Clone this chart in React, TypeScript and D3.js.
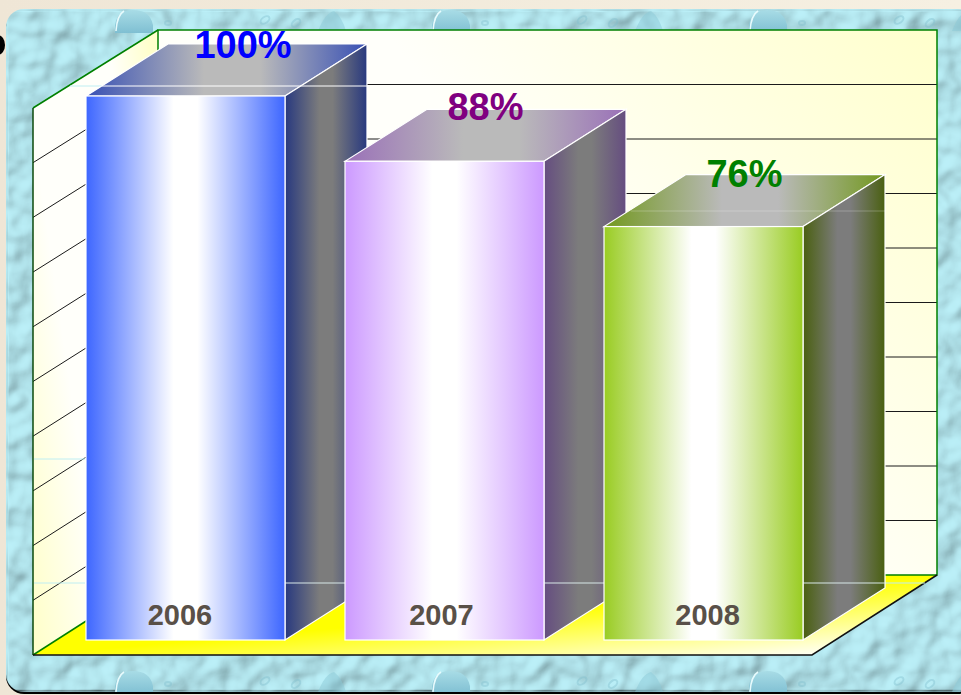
import * as d3 from "d3";

const years = ["2006", "2007", "2008"];
const percents = [100, 88, 76];
const gridTicks = d3.range(0, 101, 10);

// per bar colours, order follows years
const frontColors = ["#3d66ff", "#cc99ff", "#99cc22"];
const sideColors = ["#28397f", "#654d80", "#4a6010"];
const topColors = ["#3850b4", "#9a70b8", "#72981e"];
const labelColors = ["#0000ff", "#800080", "#008000"];

// the labels are not quite centred in the original
const valueShift = [16.5, 0, 0];
const valueLift = [38, 41, 40];
const yearShift = [-5.5, -3, 4];

// the panel picture repeats across the page, these are the repeats
const tileOffsets = [0, 317, 634];
const bandTops = [9, 670];

const WIDTH = 961;
const HEIGHT = 695;

// the plot box, front and back planes
const front = { left: 33, right: 812, top: 108, bottom: 655 };
const back = { left: 158, right: 937, top: 30, bottom: 575 };
const barDepth = { x: 82, y: -52 };

const xScale = d3
  .scaleBand<string>()
  .domain(years)
  .range([56, 833])
  .paddingInner(0.2317)
  .paddingOuter(0.1158);
const barY = d3.scaleLinear().domain([0, 100]).range([640, 96]);
const backY = d3.scaleLinear().domain([0, 100]).range([back.bottom, back.top]);
const frontY = d3.scaleLinear().domain([0, 100]).range([front.bottom, front.top]);

const poly = (pts: [number, number][]) => d3.line()(pts) + "Z";

const App = () => {
  const bw = xScale.bandwidth();
  const font = "'Liberation Sans', Arial, sans-serif";
  return (
    <svg
      width={WIDTH}
      height={HEIGHT}
      viewBox={`0 0 ${WIDTH} ${HEIGHT}`}
      style={{ position: "absolute", left: 0, top: 0, display: "block" }}
    >
      <defs>
        <linearGradient id="paper" x1="0" y1="0" x2="1" y2="0">
          <stop offset="0" stopColor="#efe6d6" />
          <stop offset="1" stopColor="#f6f0e2" />
        </linearGradient>
        <filter id="water" x="0" y="0" width="100%" height="100%">
          <feTurbulence type="fractalNoise" baseFrequency="0.04" numOctaves="2" seed="11" result="noise" />
          <feGaussianBlur in="noise" stdDeviation="1" result="soft" />
          <feDiffuseLighting in="soft" surfaceScale="6" diffuseConstant="1.14" lightingColor="#b0e2ea" result="lit">
            <feDistantLight azimuth="225" elevation="60" />
          </feDiffuseLighting>
          <feComposite in="lit" in2="SourceGraphic" operator="in" />
        </filter>
        <linearGradient id="arch" x1="0" y1="0" x2="0" y2="1">
          <stop offset="0" stopColor="#a8dce6" />
          <stop offset="1" stopColor="#7fbfd2" />
        </linearGradient>
        <linearGradient id="backWall" gradientUnits="userSpaceOnUse" x1="937" y1="30" x2="600" y2="300">
          <stop offset="0" stopColor="#ffffcc" />
          <stop offset="1" stopColor="#fffffa" />
        </linearGradient>
        <linearGradient id="leftWall" gradientUnits="userSpaceOnUse" x1="33" y1="650" x2="233" y2="621">
          <stop offset="0" stopColor="#ffffc8" />
          <stop offset="0.37" stopColor="#fffffa" />
          <stop offset="0.8" stopColor="#fffffa" />
          <stop offset="1" stopColor="#ffffcc" />
        </linearGradient>
        <linearGradient id="floor" gradientUnits="userSpaceOnUse" x1="33" y1="655" x2="39" y2="723">
          <stop offset="0" stopColor="#ffff00" />
          <stop offset="1" stopColor="#fffff4" />
        </linearGradient>
        {years.map((y, i) => (
          <g key={y}>
            <linearGradient id={`front${i}`} x1="0" y1="0" x2="1" y2="0">
              <stop offset="0" stopColor={frontColors[i]} />
              <stop offset="0.44" stopColor="#ffffff" />
              <stop offset="0.56" stopColor="#ffffff" />
              <stop offset="1" stopColor={frontColors[i]} />
            </linearGradient>
            <linearGradient id={`side${i}`} x1="0" y1="0" x2="1" y2="0">
              <stop offset="0" stopColor={sideColors[i]} />
              <stop offset="0.42" stopColor="#7c7c7c" />
              <stop offset="0.58" stopColor="#7c7c7c" />
              <stop offset="1" stopColor={sideColors[i]} />
            </linearGradient>
            <linearGradient id={`top${i}`} x1="0" y1="0" x2="1" y2="0">
              <stop offset="0" stopColor={topColors[i]} />
              <stop offset="0.42" stopColor="#bababa" />
              <stop offset="0.62" stopColor="#bababa" />
              <stop offset="1" stopColor={topColors[i]} />
            </linearGradient>
          </g>
        ))}
        <clipPath id="panelClip">
          <rect x={6} y={9} width={970} height={683} rx={18} />
        </clipPath>
      </defs>

      {/* page and textured panel */}
      <rect width={WIDTH} height={HEIGHT} fill="url(#paper)" />
      <ellipse cx={-2} cy={45} rx={7} ry={10} fill="#000" />
      <rect x={6} y={11} width={970} height={683} rx={18} fill="#000" />
      <rect x={6} y={9} width={970} height={683} rx={18} fill="#fff" filter="url(#water)" />
      <g clipPath="url(#panelClip)">
        {bandTops.map((top) =>
          tileOffsets.map((dx) => (
            <g key={`${top}-${dx}`} transform={`translate(${dx},${top})`}>
              <path d="M115,24V16Q117,1 133,1Q150,1 153,16V24Z" fill="url(#arch)" />
              <path d="M116,22Q117,6 124,2" fill="none" stroke="#e8fbfd" strokeWidth={1.5} />
              <path d="M318,22Q325,4 334,2Q342,8 346,22Z" fill="#8cc9d8" opacity="0.5" />
              <g fill="none" stroke="#7fbdcc" strokeOpacity="0.4" strokeWidth={2}>
                <ellipse cx={265} cy={11} rx={5} ry={3} transform="rotate(-35 265 11)" />
                <ellipse cx={296} cy={14} rx={5} ry={3} transform="rotate(-40 296 14)" />
                <ellipse cx={168} cy={14} rx={3} ry={2} />
              </g>
            </g>
          ))
        )}
      </g>

      {/* walls and floor */}
      <path
        d={poly([[back.left, back.top], [back.right, back.top], [back.right, back.bottom], [back.left, back.bottom]])}
        fill="url(#backWall)"
      />
      <path
        d={poly([[front.left, front.top], [back.left, back.top], [back.left, back.bottom], [front.left, front.bottom]])}
        fill="url(#leftWall)"
      />
      <path
        d={poly([[front.left, front.bottom], [front.right, front.bottom], [back.right, back.bottom], [back.left, back.bottom]])}
        fill="url(#floor)"
      />

      {/* gridlines */}
      {gridTicks.slice(1, -1).map((t) => (
        <g key={t} stroke="#1a1a1a" strokeWidth={1}>
          <line x1={front.left} y1={frontY(t)} x2={back.left} y2={backY(t)} />
          <line x1={back.left} y1={backY(t)} x2={back.right} y2={backY(t)} />
        </g>
      ))}

      {/* frame */}
      <g fill="none" stroke="#008000" strokeWidth={1.5}>
        <path d={poly([[back.left, back.top], [back.right, back.top], [back.right, back.bottom], [back.left, back.bottom]])} />
        <line x1={front.left} y1={front.top} x2={back.left} y2={back.top} />
        <line x1={front.left} y1={front.bottom} x2={back.left} y2={back.bottom} />
        <line x1={front.left} y1={front.top} x2={front.left} y2={front.bottom} stroke="#0b4a0b" />
      </g>
      <path
        d={`M${front.left},${front.bottom}L${front.right},${front.bottom}L${back.right},${back.bottom}`}
        fill="none"
        stroke="#111"
        strokeWidth={1.5}
      />

      {/* faint seams from the stretched wall picture */}
      <g stroke="#bfeef2" strokeWidth={1}>
        <line x1={70} y1={86} x2={158} y2={86} />
        <line x1={34} y1={459} x2={85} y2={459} />
        <line x1={34} y1={583} x2={85} y2={583} />
        <line x1={812} y1={583} x2={925} y2={583} />
      </g>

      {/* bars */}
      {years.map((y, i) => {
        const x0 = xScale(y) as number;
        const x1 = x0 + bw;
        const yTop = barY(percents[i]);
        const yBot = barY(0);
        return (
          <g key={y}>
            <path
              d={poly([[x0, yTop], [x1, yTop], [x1 + barDepth.x, yTop + barDepth.y], [x0 + barDepth.x, yTop + barDepth.y]])}
              fill={`url(#top${i})`}
              stroke="#fff"
              strokeWidth={1.2}
            />
            <path
              d={poly([[x1, yTop], [x1 + barDepth.x, yTop + barDepth.y], [x1 + barDepth.x, yBot + barDepth.y], [x1, yBot]])}
              fill={`url(#side${i})`}
              stroke="#fff"
              strokeWidth={1.2}
            />
            <line x1={x1} y1={583} x2={x1 + barDepth.x} y2={583} stroke="#d8e8e8" strokeWidth={1} />
            {i === 0 && <line x1={x0 + 16} y1={86} x2={x1 + barDepth.x} y2={86} stroke="#fff" strokeWidth={1} />}
            {i === 2 && (
              <line x1={x0 + 27} y1={211} x2={x1 + barDepth.x} y2={211} stroke="#fff" strokeOpacity="0.25" strokeWidth={1} />
            )}
            <rect x={x0} y={yTop} width={bw} height={yBot - yTop} fill={`url(#front${i})`} stroke="#fff" strokeWidth={1.2} />
          </g>
        );
      })}

      {/* labels */}
      {years.map((y, i) => {
        const cx = (xScale(y) as number) + bw / 2;
        return (
          <g key={y} fontFamily={font} fontWeight="bold" textAnchor="middle">
            <text
              x={cx + barDepth.x / 2 + valueShift[i]}
              y={barY(percents[i]) - valueLift[i]}
              fontSize={38}
              fill={labelColors[i]}
            >
              {percents[i]}%
            </text>
            <text x={cx + yearShift[i]} y={625} fontSize={29} fill="#595048">
              {y}
            </text>
          </g>
        );
      })}
    </svg>
  );
};

export default App;
